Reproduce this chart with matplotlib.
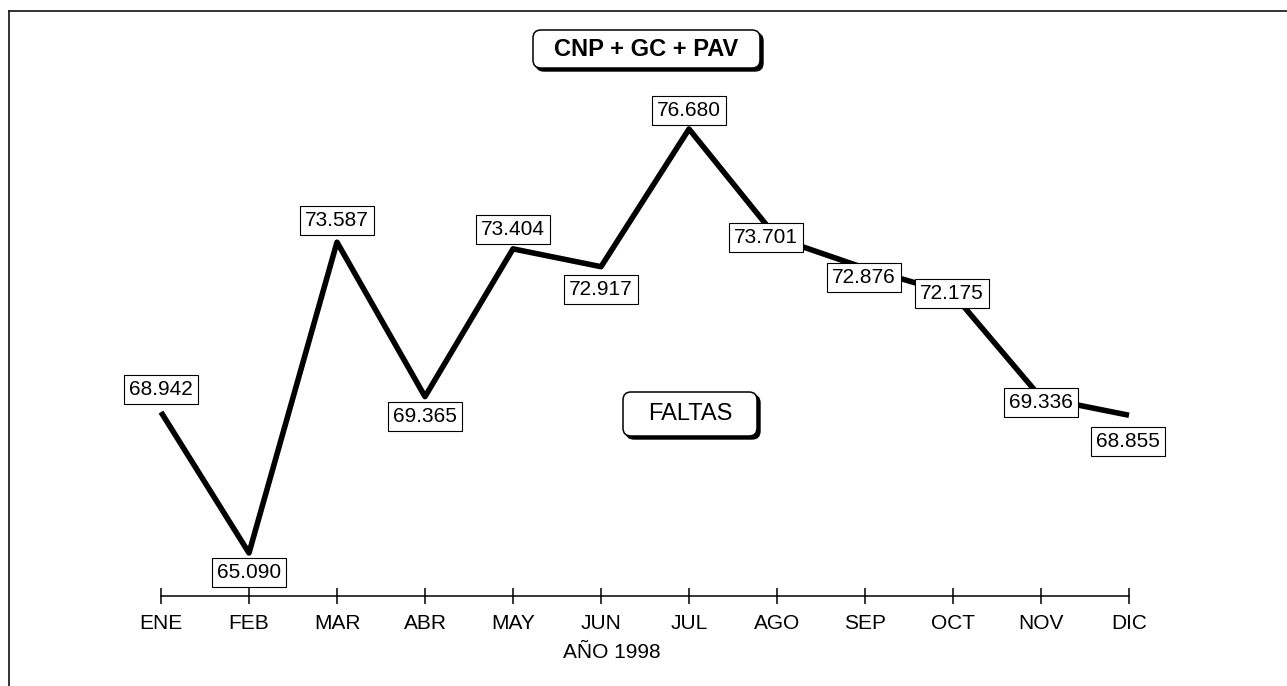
import matplotlib
matplotlib.use("Agg")
import matplotlib.pyplot as plt
from matplotlib.lines import Line2D
from matplotlib.patches import FancyBboxPatch

plt.rcParams['font.family'] = ['Liberation Sans', 'DejaVu Sans']

months = ["ENE", "FEB", "MAR", "ABR", "MAY", "JUN", "JUL", "AGO", "SEP", "OCT", "NOV", "DIC"]
faltas = [68.942, 65.090, 73.587, 69.365, 73.404, 72.917, 76.680, 73.701, 72.876, 72.175, 69.336, 68.855]
value_labels = ["68.942", "65.090", "73.587", "69.365", "73.404", "72.917",
                "76.680", "73.701", "72.876", "72.175", "69.336", "68.855"]
title = "CNP + GC + PAV"
series_name = "FALTAS"
xlabel = "AÑO 1998"

# label offsets from each point, in pixels
label_offsets = [(0, 23), (0, -20), (0, 22), (0, -20), (0, 19), (0, -23),
                 (0, 19), (-11, 1), (-1, -9), (-1, 0), (0, -5), (-1, -26)]

W, H = 1287, 686
fig = plt.figure(figsize=(W / 100, H / 100), dpi=100)
ax = fig.add_axes([9 / W, (H - 596) / H, 1278 / W, 585 / H])

x = list(range(len(months)))
ax.plot(x, faltas, color="black", lw=4.0, solid_joinstyle="round", solid_capstyle="butt", zorder=2)

for xi, yi, txt, (dx, dy) in zip(x, faltas, value_labels, label_offsets):
    ax.annotate(txt, (xi, yi), xytext=(dx, dy), textcoords="offset pixels",
                ha="center", va="center", fontsize=15, zorder=3,
                bbox=dict(boxstyle="square,pad=0.24", fc="white", ec="black", lw=0.8))

ax.set_xlim(-1.7273, 12.7955)
ax.set_ylim(63.914, 79.907)
ax.set_xticks(x)
ax.set_xticklabels(months, fontsize=15)
ax.set_yticks([])
for s in ["top", "right", "left"]:
    ax.spines[s].set_visible(False)
ax.spines["bottom"].set_bounds(0, 11)
ax.spines["bottom"].set_linewidth(1.1)
ax.tick_params(axis="x", direction="inout", length=12, width=1.1, pad=7)
ax.set_xlabel(xlabel, fontsize=15)
ax.xaxis.set_label_coords((612 - 9) / 1278, (596 - 652) / 585)
ax.xaxis.label.set_va("center")
ax.patch.set_visible(False)


def rounded_box(x0, y0, w, h, text, weight):
    # pixel coords from top-left, drawn in inches so corners stay round
    tr = fig.dpi_scale_trans
    bx, by = x0 / 100, (H - y0 - h) / 100
    shadow = FancyBboxPatch((bx + 0.03, by - 0.03), w / 100, h / 100,
                            boxstyle="round,pad=0,rounding_size=0.08",
                            fc="black", ec="black", lw=1, transform=tr)
    box = FancyBboxPatch((bx, by), w / 100, h / 100,
                         boxstyle="round,pad=0,rounding_size=0.08",
                         fc="white", ec="black", lw=1.1, transform=tr)
    fig.add_artist(shadow)
    fig.add_artist(box)
    fig.text((x0 + w / 2) / W, 1 - (y0 + h / 2) / H, text, ha="center", va="center",
             fontsize=17, fontweight=weight)


rounded_box(533, 30, 227, 38, title, "bold")
rounded_box(623, 392, 134, 44, series_name, "normal")

# outer frame (top and left)
fig.add_artist(Line2D([9 / W, 1], [1 - 11 / H, 1 - 11 / H], color="#222222", lw=1.3))
fig.add_artist(Line2D([9 / W, 9 / W], [0, 1 - 11 / H], color="#222222", lw=1.3))

fig.savefig("out.png", dpi=100)
